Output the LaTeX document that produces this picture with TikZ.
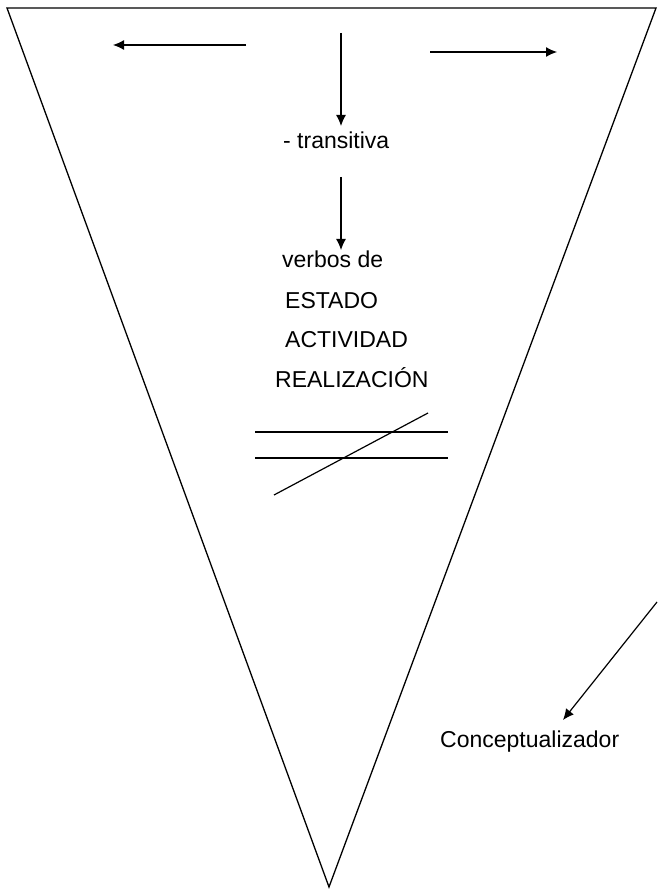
\documentclass[tikz,border=0pt]{standalone}
\usepackage{fontspec}
\setmainfont{Liberation Sans}
\usetikzlibrary{arrows.meta}
\begin{document}
\begin{tikzpicture}[x=1pt,y=-1pt,
  lbl/.style={anchor=base west,inner sep=0pt,font=\fontsize{23}{27}\selectfont},
  arr/.style={line width=1.2pt,-{Latex[length=11pt,width=10pt]}},
  edge/.style={line width=1.3pt,line join=miter}]
\useasboundingbox (0,0) rectangle (657,890);
% funnel
\coordinate (tl) at (7,8);
\coordinate (tr) at (656,8);
\coordinate (bt) at (329,887);
\draw[edge] (tl) -- (tr) -- (bt) -- cycle;
% top arrows
\coordinate (la1) at (246,45);
\coordinate (la2) at (113,45);
\draw[arr] (la1) -- (la2);
\coordinate (ra1) at (430,52);
\coordinate (ra2) at (557,52);
\draw[arr] (ra1) -- (ra2);
% texts
\node[lbl] (trans) at (283,149) {- transitiva};
\node[lbl] (verbos) at (282,268) {verbos de};
\node[lbl] (estado) at (285,308) {ESTADO};
\node[lbl] (activ) at (285,347) {ACTIVIDAD};
\node[lbl] (realiz) at (275,387) {REALIZACIÓN};
\node[lbl] (concep) at (440,747) {Conceptualizador};
% vertical arrows
\coordinate (v1) at (341,33);
\coordinate (v1e) at (341,126);
\draw[arr] (v1) -- (v1e);
\coordinate (v2) at (341,177);
\coordinate (v2e) at (341,250);
\draw[arr] (v2) -- (v2e);
% crossed lines
\coordinate (h1a) at (255,432);
\coordinate (h1b) at (448,432);
\coordinate (h2a) at (255,458);
\coordinate (h2b) at (448,458);
\coordinate (d1) at (274,495);
\coordinate (d2) at (428,413);
\draw[line width=1.3pt] (h1a) -- (h1b);
\draw[line width=1.3pt] (h2a) -- (h2b);
\draw[line width=1.2pt] (d1) -- (d2);
% conceptualizador arrow
\coordinate (ca) at (657,602);
\coordinate (cb) at (563,720);
\draw[arr] (ca) -- (cb);
\end{tikzpicture}
\end{document}
